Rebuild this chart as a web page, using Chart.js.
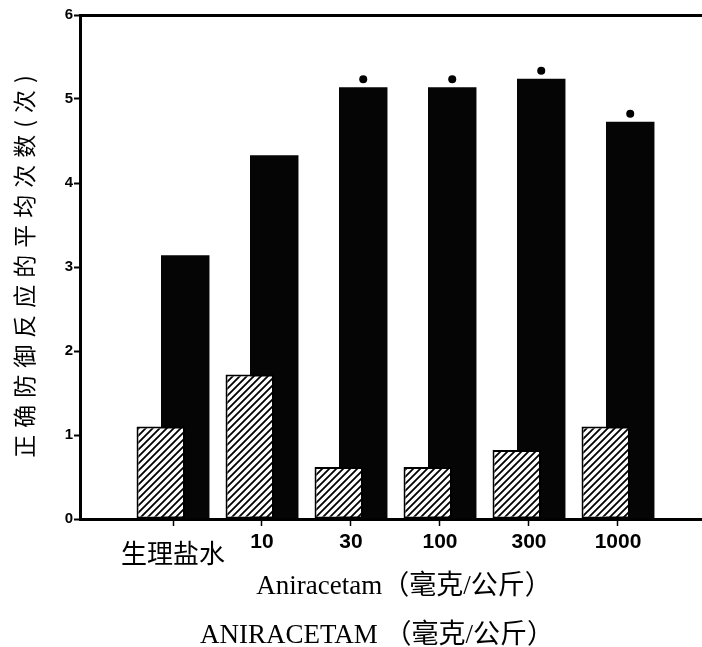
<!DOCTYPE html>
<html><head><meta charset="utf-8">
<script src="https://cdn.jsdelivr.net/npm/chart.js@4.4.1/dist/chart.umd.min.js"></script>
<style>html,body{margin:0;padding:0;background:#fff}#wrap{width:702px;height:647px;position:relative}</style>
</head><body><div id="wrap"><canvas id="c" width="702" height="647"></canvas></div>
<script>
// ---- data ----
const categories = ['生理盐水', '10', '30', '100', '300', '1000'];
const hatchedValues = [1.10, 1.72, 0.62, 0.62, 0.82, 1.10];
const blackValues = [3.14, 4.33, 5.14, 5.14, 5.24, 4.73];
const significant = [false, false, true, true, true, true];
const yTickValues = [0, 1, 2, 3, 4, 5, 6];
const yTitle = '正确防御反应的平均次数(次)';
const xTitle = 'Aniracetam（毫克/公斤）';
const footTitle = 'ANIRACETAM （毫克/公斤）';

function hatchPattern() {
  const s = 7;
  const c = document.createElement('canvas');
  c.width = s; c.height = s;
  const g = c.getContext('2d');
  g.fillStyle = '#fff'; g.fillRect(0, 0, s, s);
  g.strokeStyle = '#000'; g.lineWidth = 1.8;
  g.beginPath();
  g.moveTo(-1, s + 1); g.lineTo(s + 1, -1);
  g.moveTo(-1, 1); g.lineTo(1, -1);
  g.moveTo(s - 1, s + 1); g.lineTo(s + 1, s - 1);
  g.stroke();
  return document.getElementById('c').getContext('2d').createPattern(c, 'repeat');
}

const annotate = {
  id: 'annotate',
  afterDatasetsDraw(chart) {
    const ctx = chart.ctx;
    const meta = chart.getDatasetMeta(1);
    ctx.save();
    ctx.fillStyle = '#000';
    meta.data.forEach((el, i) => {
      if (!significant[i]) return;
      ctx.beginPath();
      ctx.arc(el.x, el.y - 8, 4, 0, Math.PI * 2);
      ctx.fill();
    });
    ctx.restore();
  },
  afterDraw(chart) {
    const ctx = chart.ctx;
    const ca = chart.chartArea;
    ctx.save();
    ctx.fillStyle = '#000';
    ctx.translate(24, (ca.top + ca.bottom) / 2);
    ctx.rotate(-Math.PI / 2);
    ctx.font = "23px 'Noto Sans CJK SC'";
    ctx.letterSpacing = '7px';
    ctx.textAlign = 'center';
    ctx.textBaseline = 'middle';
    ctx.fillText(yTitle, 4, 0);
    ctx.restore();
    ctx.save();
    ctx.fillStyle = '#000';
    ctx.textAlign = 'center';
    ctx.textBaseline = 'alphabetic';
    ctx.font = "27px 'Liberation Serif', 'Noto Sans CJK SC'";
    ctx.fillText(xTitle, 404, 594);
    ctx.fillText(footTitle, 377, 643);
    ctx.restore();
  }
};

new Chart(document.getElementById('c'), {
  type: 'bar',
  data: {
    datasets: [
      {
        label: 'hatched',
        data: hatchedValues.map((v, i) => ({ x: i + 1, y: v })),
        backgroundColor: hatchPattern(),
        borderColor: '#000',
        borderWidth: 2,
        borderSkipped: false
      },
      {
        label: 'black',
        data: blackValues.map((v, i) => ({ x: i + 1, y: v })),
        backgroundColor: '#050505',
        borderWidth: 0
      }
    ]
  },
  options: {
    responsive: false,
    devicePixelRatio: 1,
    animation: false,
    categoryPercentage: 0.55,
    barPercentage: 1.98,
    layout: { padding: { top: 15, left: 0, right: 0, bottom: 0 } },
    plugins: { legend: { display: false }, tooltip: { enabled: false } },
    scales: {
      x: {
        type: 'linear',
        offset: false,
        min: -0.045,
        max: 6.944,
        afterBuildTicks: s => { s.ticks = categories.map((c, i) => ({ value: i + 1 })); },
        afterFit: s => { s.height = 128; },
        border: { display: true, color: '#000', width: 3 },
        grid: { offset: false, drawOnChartArea: false, drawTicks: true, tickLength: 7, tickColor: '#000', tickWidth: 1.5 },
        ticks: {
          color: '#000',
          padding: 4,
          autoSkip: false,
          maxRotation: 0,
          callback: v => categories[Math.round(v) - 1],
          font: c => c.index === 0
            ? { family: "'Noto Sans CJK SC'", size: 26, lineHeight: 1.8 }
            : { family: "'Liberation Sans', Arial", size: 21, weight: 'bold', lineHeight: 1.2 }
        }
      },
      y: {
        min: 0,
        max: 6,
        afterBuildTicks: s => { s.ticks = yTickValues.map(v => ({ value: v })); },
        afterFit: s => { s.width = 80; },
        border: { display: true, color: '#000', width: 3 },
        grid: {
          drawOnChartArea: true,
          color: c => c.tick && c.tick.value === 6 ? '#000' : 'rgba(0,0,0,0)',
          lineWidth: c => c.tick && c.tick.value === 6 ? 3 : 1,
          drawTicks: true, tickLength: 6, tickColor: '#000', tickWidth: 2
        },
        ticks: {
          color: '#000',
          padding: 1,
          font: { family: "'Liberation Sans', Arial", size: 15, weight: 'bold' }
        }
      }
    }
  },
  plugins: [annotate]
});
</script></body></html>
